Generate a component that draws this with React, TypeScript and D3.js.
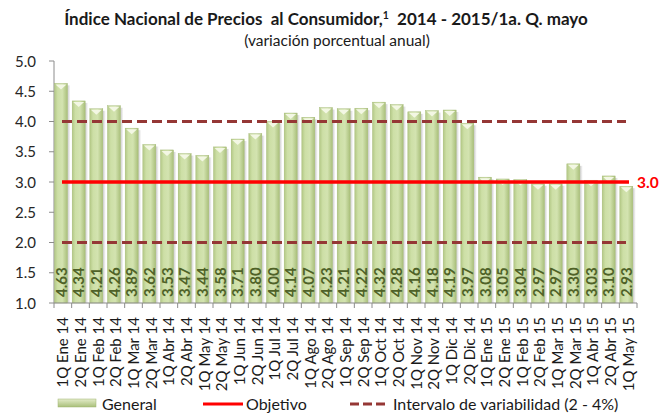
import React from "react";
import * as d3 from "d3";

const categories = [
  "1Q Ene 14", "2Q Ene 14", "1Q Feb 14", "2Q Feb 14", "1Q Mar 14", "2Q Mar 14",
  "1Q Abr 14", "2Q Abr 14", "1Q May 14", "2Q May 14", "1Q Jun 14", "2Q Jun 14",
  "1Q Jul 14", "2Q Jul 14", "1Q Ago 14", "2Q Ago 14", "1Q Sep 14", "2Q Sep 14",
  "1Q Oct 14", "2Q Oct 14", "1Q Nov 14", "2Q Nov 14", "1Q Dic 14", "2Q Dic 14",
  "1Q Ene 15", "2Q Ene 15", "1Q Feb 15", "2Q Feb 15", "1Q Mar 15", "2Q Mar 15",
  "1Q Abr 15", "2Q Abr 15", "1Q May 15",
];
const general = [
  4.63, 4.34, 4.21, 4.26, 3.89, 3.62, 3.53, 3.47, 3.44, 3.58, 3.71, 3.80,
  4.00, 4.14, 4.07, 4.23, 4.21, 4.22, 4.32, 4.28, 4.16, 4.18, 4.19, 3.97,
  3.08, 3.05, 3.04, 2.97, 2.97, 3.30, 3.03, 3.10, 2.93,
];
const objetivo = 3.0;
const intervalo = [2.0, 4.0];
const yTicks = [1.0, 1.5, 2.0, 2.5, 3.0, 3.5, 4.0, 4.5, 5.0];

const FONT = "Lato, 'Open Sans', sans-serif";

export default function App() {
  const W = 671, H = 416;
  const left = 54, right = 637, top = 61, bottom = 303;
  const x = d3.scaleBand<string>().domain(categories).range([left, right]).padding(0);
  const y = d3.scaleLinear().domain([1, 5]).range([bottom, top]);
  const bw = x.bandwidth();
  const barW = 13;
  const lineX0 = left + 8, lineX1 = 629;
  const dashX1 = 626;

  return (
    <svg width={W} height={H} style={{ position: "absolute", left: 0, top: 0, background: "#fff" }}>
      <defs>
        <linearGradient id="barG" x1="0" x2="1" y1="0" y2="0">
          <stop offset="0" stopColor="#b3c886" />
          <stop offset="0.25" stopColor="#cddfa6" />
          <stop offset="0.6" stopColor="#d3e3b0" />
          <stop offset="1" stopColor="#a9bf7a" />
        </linearGradient>
        <linearGradient id="shadowG" x1="0" x2="1" y1="0" y2="0">
          <stop offset="0" stopColor="#bdbdbd" />
          <stop offset="1" stopColor="#ffffff" />
        </linearGradient>
        <linearGradient id="legG" x1="0" x2="0" y1="0" y2="1">
          <stop offset="0" stopColor="#e3ecc9" />
          <stop offset="1" stopColor="#a9bf7a" />
        </linearGradient>
      </defs>

      {/* Title */}
      <text x={326} y={25} textAnchor="middle" fontFamily={FONT} fontWeight="bold" fontSize={17} fill="#1a1a1a" style={{ whiteSpace: "pre" }}>
        {"Índice Nacional de Precios  al Consumidor,"}
        <tspan fontSize={10.5} dy={-6}>1</tspan>
        <tspan dy={6}>{"  2014 - 2015/1a. Q. mayo"}</tspan>
      </text>
      <text x={337} y={46} textAnchor="middle" fontFamily={FONT} fontSize={15.5} fill="#1a1a1a">
        (variación porcentual anual)
      </text>

      {/* Y axis */}
      <line x1={left} x2={left} y1={top} y2={bottom} stroke="#8c8c8c" />
      {yTicks.map((t) => (
        <g key={t}>
          <line x1={left - 5} x2={left} y1={y(t)} y2={y(t)} stroke="#8c8c8c" />
          <text x={36} y={y(t) + 5.5} textAnchor="end" fontFamily={FONT} fontSize={15} fill="#262626">
            {t.toFixed(1)}
          </text>
        </g>
      ))}

      {/* Bars */}
      {categories.map((c, i) => {
        const x0 = (x(c) as number) + 0.5;
        const yv = y(general[i]);
        return (
          <g key={c}>
            <rect x={x0 + barW} y={yv + 2} width={3} height={bottom - yv - 2} fill="url(#shadowG)" opacity={0.8} />
            <rect x={x0} y={yv} width={barW} height={bottom - yv} fill="url(#barG)" stroke="#9fb56f" strokeWidth={0.4} />
            <polygon
              points={`${x0 + 1},${yv + 1} ${x0 + barW - 1},${yv + 1} ${x0 + barW / 2},${yv + 6}`}
              fill="#f3f7e4"
            />
            <text
              transform={`translate(${x0 + barW / 2 + 5.5},${bottom - 6}) rotate(-90)`}
              fontFamily={FONT}
              fontWeight="bold"
              fontSize={15}
              fill="#4f6228"
            >
              {general[i].toFixed(2)}
            </text>
          </g>
        );
      })}

      {/* X axis */}
      <line x1={left} x2={right} y1={bottom} y2={bottom} stroke="#8c8c8c" />
      {d3.range(categories.length + 1).map((i) => (
        <line key={i} x1={left + i * bw} x2={left + i * bw} y1={bottom} y2={bottom + 5} stroke="#8c8c8c" />
      ))}
      {categories.map((c) => (
        <text
          key={c}
          transform={`translate(${(x(c) as number) + bw / 2 + 5.5},${bottom + 14}) rotate(-90)`}
          textAnchor="end"
          fontFamily={FONT}
          fontSize={15}
          fill="#1a1a1a"
        >
          {c}
        </text>
      ))}

      {/* Interval lines */}
      {intervalo.map((v) => (
        <line key={v} x1={lineX0} x2={dashX1} y1={y(v)} y2={y(v)} stroke="#953735" strokeWidth={3} strokeDasharray="10 5" />
      ))}
      {/* Objetivo */}
      <line x1={lineX0} x2={lineX1} y1={y(objetivo)} y2={y(objetivo)} stroke="#ff0000" strokeWidth={3.5} />
      <text x={637} y={y(objetivo) + 5.5} fontFamily={FONT} fontWeight="bold" fontSize={15.5} fill="#ff0000">
        {objetivo.toFixed(1)}
      </text>

      {/* Legend */}
      <rect x={58} y={399} width={38} height={8} fill="url(#legG)" stroke="#9fb56f" strokeWidth={0.5} />
      <text x={102} y={410} fontFamily={FONT} fontSize={16} fill="#1a1a1a">General</text>
      <line x1={203} x2={243} y1={404} y2={404} stroke="#ff0000" strokeWidth={3} />
      <text x={246} y={410} fontFamily={FONT} fontSize={16} fill="#1a1a1a">Objetivo</text>
      <line x1={350} x2={386} y1={404} y2={404} stroke="#953735" strokeWidth={3} strokeDasharray="9 4" />
      <text x={393} y={410} fontFamily={FONT} fontSize={16} fill="#1a1a1a">Intervalo de variabilidad (2 - 4%)</text>
    </svg>
  );
}
